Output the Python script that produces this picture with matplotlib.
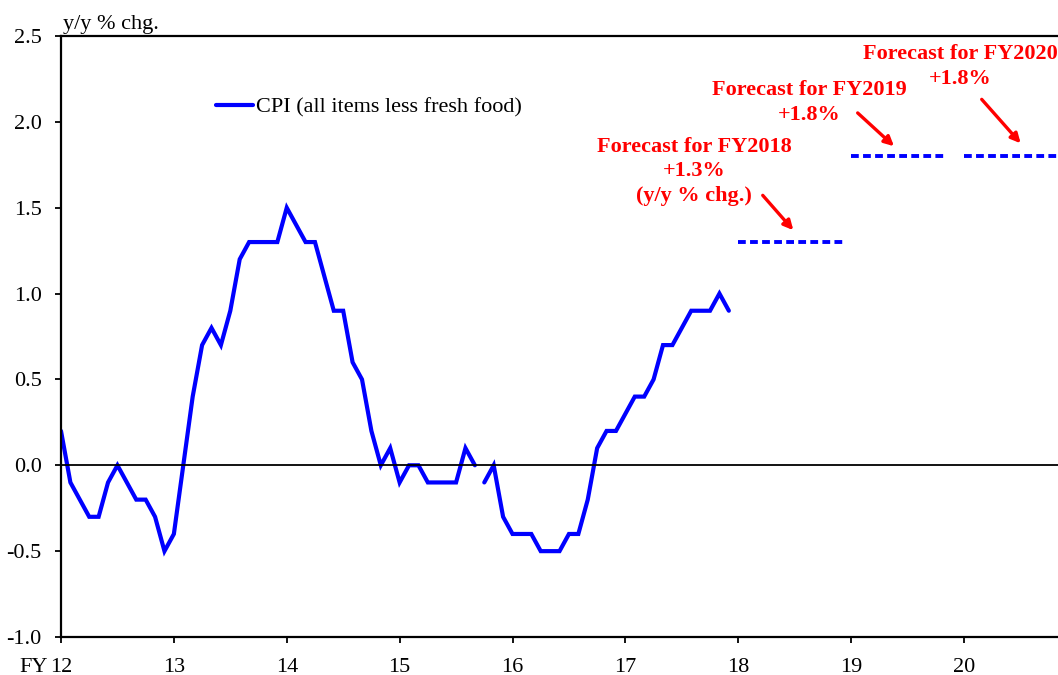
import numpy as np
import matplotlib
matplotlib.use("Agg")
import matplotlib.pyplot as plt
from matplotlib.transforms import offset_copy

# Monthly CPI (all items less fresh food), y/y % chg., from April FY2012
cpi = [0.2, -0.1, -0.2, -0.3, -0.3, -0.1, 0.0, -0.1, -0.2, -0.2, -0.3, -0.5,
       -0.4, 0.0, 0.4, 0.7, 0.8, 0.7, 0.9, 1.2, 1.3, 1.3, 1.3, 1.3,
       1.5, 1.4, 1.3, 1.3, 1.1, 0.9, 0.9, 0.6, 0.5, 0.2, 0.0, 0.1,
       -0.1, 0.0, 0.0, -0.1, -0.1, -0.1, -0.1, 0.1, 0.0, -0.1, 0.0, -0.3,
       -0.4, -0.4, -0.4, -0.5, -0.5, -0.5, -0.4, -0.4, -0.2, 0.1, 0.2, 0.2,
       0.3, 0.4, 0.4, 0.5, 0.7, 0.7, 0.8, 0.9, 0.9, 0.9, 1.0, 0.9]
break_index = 45  # series is drawn in two segments (break before this month)

start_fy = 12
forecast_fy = [18, 19, 20]
forecast_end = [18.95, 19.85, 20.85]
forecast_val = [1.3, 1.8, 1.8]
forecast_labels = ["Forecast for FY2018\n+1.3%\n(y/y % chg.)",
                   "Forecast for FY2019\n+1.8%",
                   "Forecast for FY2020\n+1.8%"]
xtick_vals = [12, 13, 14, 15, 16, 17, 18, 19, 20]
xtick_labels = ["12", "13", "14", "15", "16", "17", "18", "19", "20"]
ytick_vals = [-1.0, -0.5, 0.0, 0.5, 1.0, 1.5, 2.0, 2.5]

plt.rcParams['font.family'] = ['Liberation Serif', 'DejaVu Serif']

fig = plt.figure(figsize=(10.58, 6.75), dpi=100)
ax = fig.add_axes([61/1058, 38/675, 1 - 61/1058, (637-36)/675])

x = start_fy + np.arange(len(cpi)) / 12.0
y = np.array(cpi, dtype=float)
ax.plot(x[:break_index], y[:break_index], color='#0000FF', lw=3,
        solid_capstyle='round', solid_joinstyle='miter',
        label='CPI (all items less fresh food)')
ax.plot(x[break_index:], y[break_index:], color='#0000FF', lw=3,
        solid_capstyle='round', solid_joinstyle='miter')

for fy, fe, v in zip(forecast_fy, forecast_end, forecast_val):
    ax.plot([fy, fe], [v, v], color='#0000FF', lw=2.8,
            linestyle=(0, (2.0, 1.1)))

ax.axhline(0, color='black', lw=1.3)

# annotations
ann_text_pos = [(17.608, 1.711), (18.631, 2.113), (19.965, 2.323)]
ann_arrow_start = [(18.217, 1.572), (19.058, 2.052), (20.157, 2.131)]
ann_arrow_end = [(18.488, 1.369), (19.380, 1.858), (20.502, 1.875)]
for lbl, tp, a0, a1 in zip(forecast_labels, ann_text_pos, ann_arrow_start, ann_arrow_end):
    ax.text(tp[0], tp[1], lbl, color='red', fontsize=16, fontweight='bold',
            ha='center', va='center', linespacing=1.32, clip_on=False)
    ax.annotate('', xy=a1, xytext=a0,
                arrowprops=dict(arrowstyle='-|>', color='red', lw=2.4,
                                mutation_scale=14, shrinkA=0, shrinkB=0))

ax.set_xlim(12, 12 + 997/112.875)
ax.set_ylim(-1.0, 2.5)
ax.set_xticks(xtick_vals)
ax.set_xticklabels(xtick_labels)
ax.set_yticks(ytick_vals)
ax.set_yticklabels([f"{v:.1f}" for v in ytick_vals])
tick_len = 4.5
xpad = 10.5
ax.tick_params(axis='both', direction='out', length=tick_len, width=1.3,
               labelsize=16, colors='black')
ax.tick_params(axis='x', pad=xpad)
ax.tick_params(axis='y', pad=9.4)
ax.spines['right'].set_visible(False)
for s in ['left', 'top', 'bottom']:
    ax.spines[s].set_linewidth(1.6)

fy_trans = offset_copy(ax.transAxes, fig=fig, x=-13, y=-(tick_len + xpad) * 100 / 72,
                       units='dots')
ax.text(0, 0, "FY", transform=fy_trans, ha='right', va='top', fontsize=16)
ax.text(0.002, 1.003, "y/y % chg.", transform=ax.transAxes, ha='left',
        va='bottom', fontsize=16)

leg = ax.legend(loc='center left', bbox_to_anchor=(155/997, (637-107.5)/601),
                frameon=False, fontsize=16, handlelength=1.67,
                handletextpad=0.12, borderaxespad=0, borderpad=0)

fig.savefig("out.png", dpi=100)
